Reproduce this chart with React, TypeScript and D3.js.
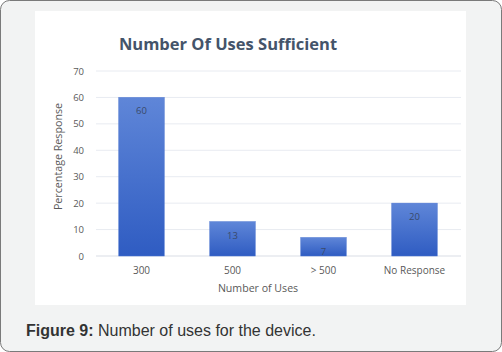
import React from "react";
import * as d3 from "d3";

const categories = ["300", "500", "> 500", "No Response"];
const values = [60, 13, 7, 20];
const yTicks = [0, 10, 20, 30, 40, 50, 60, 70];

export default function App() {
  const W = 502, H = 352;
  const x = d3.scaleBand<string>().domain(categories).range([96, 460]).paddingInner(0.5).paddingOuter(0.25);
  const y = d3.scaleLinear().domain([0, 70]).range([256, 71]);
  const font = "'Open Sans', 'Noto Sans', sans-serif";
  return (
    <svg width={W} height={H} style={{ position: "absolute", left: 0, top: 0 }}>
      <defs>
        <linearGradient id="barGrad" x1="0" y1="0" x2="0" y2="1">
          <stop offset="0" stopColor="#5f86d8" />
          <stop offset="1" stopColor="#2f5cc2" />
        </linearGradient>
      </defs>
      <rect x={0.5} y={0.5} width={W - 1} height={H - 1} rx={9} fill="#f2f3f3" stroke="#7a7a7a" strokeWidth={1} />
      <rect x={35} y={11} width={431} height={294} fill="#ffffff" />
      <text x={228} y={50} textAnchor="middle" fontFamily={font} fontWeight="bold" fontSize={16.5} fill="#44546a">
        Number Of Uses Sufficient
      </text>
      {yTicks.map((t) => (
        <g key={t}>
          <line x1={96} x2={461} y1={y(t)} y2={y(t)} stroke={t === 0 ? "#d9dde5" : "#e8ebf1"} strokeWidth={1} />
          <text x={84} y={y(t) + 3.5} textAnchor="end" fontFamily={font} fontSize={9.5} fill="#595959">
            {t}
          </text>
        </g>
      ))}
      {categories.map((c, i) => (
        <g key={c}>
          <rect x={x(c)!} y={y(values[i])} width={x.bandwidth()} height={y(0) - y(values[i])} fill="url(#barGrad)" stroke="#4a74d0" strokeWidth={0.5} />
          <text x={x(c)! + x.bandwidth() / 2} y={y(values[i]) + 17} textAnchor="middle" fontFamily={font} fontSize={9.5} fill="#3a4a6a">
            {values[i]}
          </text>
          <text x={x(c)! + x.bandwidth() / 2} y={274} textAnchor="middle" fontFamily={font} fontSize={10} fill="#595959">
            {c}
          </text>
        </g>
      ))}
      <text x={258} y={292} textAnchor="middle" fontFamily={font} fontSize={10.6} fill="#595959">
        Number of Uses
      </text>
      <text transform={`translate(62,156.5) rotate(-90)`} textAnchor="middle" fontFamily={font} fontSize={10.7} fill="#595959">
        Percentage Response
      </text>
      <text x={26} y={336} fontFamily="'Liberation Sans', Arial, sans-serif" fontSize={16} fill="#333333">
        <tspan fontWeight="bold">Figure 9:</tspan> Number of uses for the device.
      </text>
    </svg>
  );
}
